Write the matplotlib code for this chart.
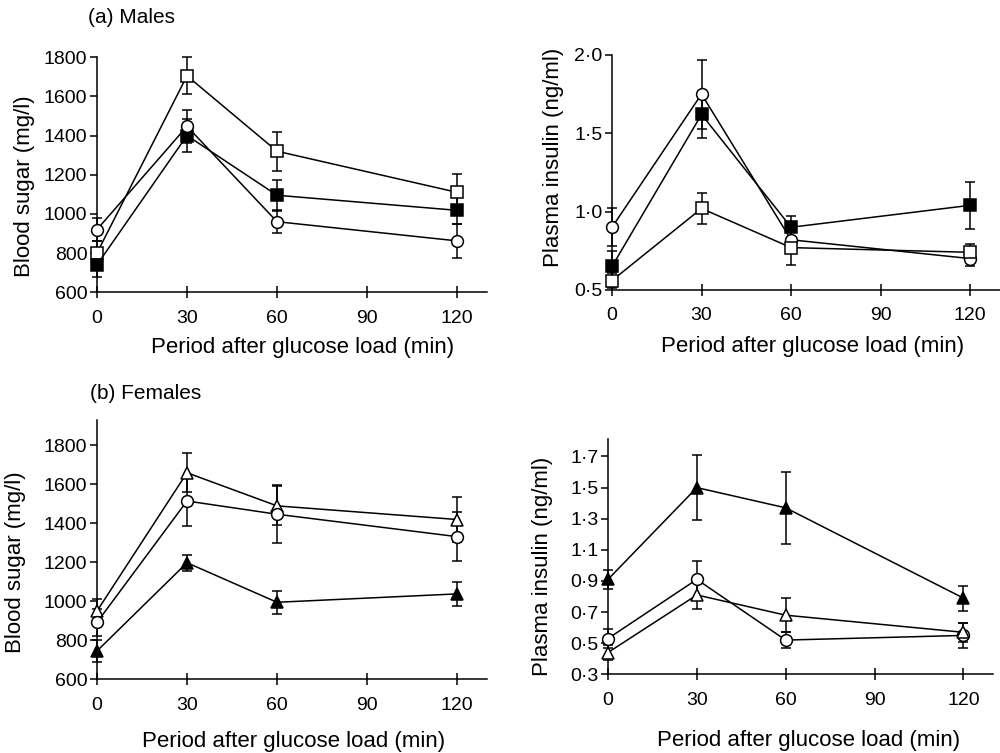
import matplotlib
matplotlib.use('Agg')
import matplotlib.pyplot as plt
from matplotlib.ticker import FixedLocator, FuncFormatter

plt.rcParams['font.family'] = ['Liberation Sans', 'DejaVu Sans']

tiempos = [0, 30, 60, 120]

# (a) Machos - azúcar en sangre (mg/l)
m_az_cuad_abierto = [800, 1705, 1320, 1110]
m_az_cuad_abierto_err = [60, 95, 100, 95]
m_az_cuad_lleno = [740, 1400, 1095, 1018]
m_az_cuad_lleno_err = [60, 85, 80, 70]
m_az_circulo = [920, 1447, 960, 862]
m_az_circulo_err = [60, 85, 60, 85]

# (a) Machos - insulina (ng/ml)
m_in_circulo = [0.90, 1.75, 0.82, 0.70]
m_in_circulo_err = [0.12, 0.22, 0.06, 0.05]
m_in_cuad_lleno = [0.65, 1.62, 0.90, 1.04]
m_in_cuad_lleno_err = [0.10, 0.15, 0.07, 0.15]
m_in_cuad_abierto = [0.56, 1.02, 0.77, 0.74]
m_in_cuad_abierto_err = [0.05, 0.10, 0.11, 0.05]

# (b) Hembras - azúcar en sangre (mg/l)
h_az_tri_abierto = [950, 1660, 1490, 1420]
h_az_tri_abierto_err = [60, 100, 100, 115]
h_az_circulo = [892, 1515, 1447, 1332]
h_az_circulo_err = [70, 130, 150, 125]
h_az_tri_lleno = [745, 1198, 995, 1038]
h_az_tri_lleno_err = [55, 40, 58, 63]

# (b) Hembras - insulina (ng/ml)
h_in_tri_lleno = [0.91, 1.50, 1.37, 0.79]
h_in_tri_lleno_err = [0.06, 0.21, 0.23, 0.08]
h_in_circulo = [0.53, 0.91, 0.52, 0.55]
h_in_circulo_err = [0.06, 0.12, 0.05, 0.08]
h_in_tri_abierto = [0.44, 0.81, 0.68, 0.57]
h_in_tri_abierto_err = [0.05, 0.09, 0.11, 0.06]

fig = plt.figure(figsize=(10, 7.53), dpi=100)

def serie(ax, y, err, marker, relleno):
    ax.errorbar(tiempos, y, yerr=err, color='black', lw=1.1, elinewidth=1.1,
                capsize=3.5, capthick=1.1, marker=marker, markersize=8.5,
                markerfacecolor='black' if relleno else 'white',
                markeredgecolor='black', markeredgewidth=1.1, clip_on=False, zorder=3)

def estilo(ax, ylim, yticks, ylabel, xl_pos, yl_pos, decimal=False):
    ax.set_xlim(0, 130)
    ax.set_ylim(*ylim)
    ax.spines['top'].set_visible(False)
    ax.spines['right'].set_visible(False)
    for s in ['left', 'bottom']:
        ax.spines[s].set_linewidth(1.1)
    ax.set_xticks([0, 30, 60, 90, 120])
    ax.yaxis.set_major_locator(FixedLocator(yticks))
    if decimal:
        ax.yaxis.set_major_formatter(FuncFormatter(lambda v, p: f'{v:.1f}'.replace('.', '·')))
    ax.tick_params(axis='x', direction='inout', length=9, width=1.1, labelsize=14, pad=8)
    ax.tick_params(axis='y', direction='out', length=5, width=1.1, labelsize=14, pad=2)
    ax.set_xlabel('Period after glucose load (min)', fontsize=16)
    ax.set_ylabel(ylabel, fontsize=16)
    ax.xaxis.label.set_verticalalignment('center')
    ax.yaxis.label.set_verticalalignment('center')
    ax.xaxis.set_label_coords(*xl_pos)
    ax.yaxis.set_label_coords(*yl_pos)
    ax.patch.set_alpha(0)

# Panel a izquierdo
ax1 = fig.add_axes([0.097, 0.612, 0.39, 0.312])
serie(ax1, m_az_cuad_abierto, m_az_cuad_abierto_err, 's', False)
serie(ax1, m_az_cuad_lleno, m_az_cuad_lleno_err, 's', True)
serie(ax1, m_az_circulo, m_az_circulo_err, 'o', False)
estilo(ax1, (600, 1800), [600, 800, 1000, 1200, 1400, 1600, 1800], 'Blood sugar (mg/l)',
       (0.526, -0.234), (-0.185, 0.451))

# Panel a derecho
ax2 = fig.add_axes([0.612, 0.615, 0.388, 0.312])
serie(ax2, m_in_circulo, m_in_circulo_err, 'o', False)
serie(ax2, m_in_cuad_lleno, m_in_cuad_lleno_err, 's', True)
serie(ax2, m_in_cuad_abierto, m_in_cuad_abierto_err, 's', False)
estilo(ax2, (0.5, 2.0), [0.5, 1.0, 1.5, 2.0], 'Plasma insulin (ng/ml)',
       (0.518, -0.243), (-0.152, 0.562), decimal=True)

# Panel b izquierdo
ax3 = fig.add_axes([0.097, 0.098, 0.39, 0.344])
serie(ax3, h_az_tri_abierto, h_az_tri_abierto_err, '^', False)
serie(ax3, h_az_circulo, h_az_circulo_err, 'o', False)
serie(ax3, h_az_tri_lleno, h_az_tri_lleno_err, '^', True)
estilo(ax3, (600, 1930), [600, 800, 1000, 1200, 1400, 1600, 1800], 'Blood sugar (mg/l)',
       (0.505, -0.242), (-0.21, 0.453))

# Panel b derecho
ax4 = fig.add_axes([0.608, 0.1045, 0.385, 0.312])
serie(ax4, h_in_tri_lleno, h_in_tri_lleno_err, '^', True)
serie(ax4, h_in_circulo, h_in_circulo_err, 'o', False)
serie(ax4, h_in_tri_abierto, h_in_tri_abierto_err, '^', False)
estilo(ax4, (0.3, 1.81), [0.3, 0.5, 0.7, 0.9, 1.1, 1.3, 1.5, 1.7], 'Plasma insulin (ng/ml)',
       (0.522, -0.28), (-0.169, 0.461), decimal=True)

fig.text(0.088, 0.977, '(a) Males', fontsize=15, va='center', ha='left')
fig.text(0.090, 0.478, '(b) Females', fontsize=15, va='center', ha='left')

fig.savefig('out.png', dpi=100)
